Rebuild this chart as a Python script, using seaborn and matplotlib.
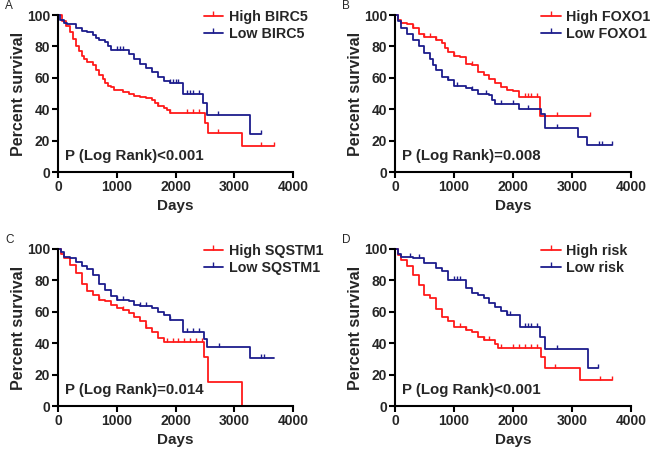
import numpy as np
import matplotlib
matplotlib.use("Agg")
import matplotlib.pyplot as plt
from matplotlib.lines import Line2D
import seaborn as sns

RED = "#ff1a1a"
BLUE = "#1c1c8c"

# step points (day, percent survival)
a_high_t = [0, 60, 130, 200, 260, 300, 350, 400, 450, 500, 600, 650, 700, 760, 800, 850, 900, 960, 1000, 1100, 1200, 1300, 1400, 1500, 1600, 1650, 1700, 1800, 1850, 1900, 2500, 2550, 3130, 3680]
a_high_s = [100, 96, 93, 89, 85, 80, 77, 74, 72, 70, 68, 65, 62, 59, 57, 55, 54, 52.5, 52, 51, 49.5, 48.5, 48, 47, 46, 44, 42, 40.5, 39.5, 37.5, 31, 25, 16.5, 16.5]
a_high_c = [1700, 1900, 2200, 2300, 2400, 2720, 3450, 3680]
a_low_t = [0, 40, 100, 150, 300, 400, 500, 600, 650, 700, 800, 850, 900, 1200, 1300, 1400, 1500, 1600, 1700, 1800, 1900, 2120, 2470, 2530, 3270, 3450]
a_low_s = [100, 97, 95, 94, 92, 90, 89, 87, 85.5, 84, 83, 80, 77.5, 75, 72, 69, 66, 64, 60.5, 58, 57, 50, 44, 36.5, 24, 24]
a_low_c = [1000, 1050, 1100, 1900, 1950, 2000, 2050, 2200, 2250, 2300, 2400, 2720, 3450]

b_high_t = [0, 50, 100, 200, 300, 400, 500, 700, 800, 850, 900, 1000, 1100, 1200, 1300, 1400, 1500, 1600, 1700, 1800, 1900, 2000, 2100, 2460, 3300]
b_high_s = [100, 97, 95, 94, 92, 88, 86, 84, 82, 79, 76.5, 74, 73, 69, 68, 64, 61.5, 59.5, 56.7, 54, 52.5, 51.5, 48, 35.5, 35.5]
b_high_c = [300, 500, 600, 700, 1000, 1300, 2200, 2250, 2300, 2400, 2740, 3300]
b_low_t = [0, 50, 100, 200, 300, 400, 500, 600, 650, 700, 800, 900, 1000, 1200, 1300, 1400, 1600, 1650, 1700, 2100, 2480, 2540, 3100, 3250, 3680]
b_low_s = [100, 96, 92, 88, 84, 80, 75.5, 72, 68, 65, 60.5, 58.5, 55, 53.7, 52, 49.5, 49, 46, 43.5, 40, 37, 28, 22, 17, 17]
b_low_c = [900, 1050, 1300, 1550, 1800, 2000, 2250, 2750, 3450, 3500, 3680]

c_high_t = [0, 50, 100, 200, 300, 400, 500, 600, 700, 800, 900, 1000, 1100, 1200, 1300, 1400, 1500, 1600, 1700, 1800, 2480, 2560, 3130]
c_high_s = [100, 97, 94, 90, 84.7, 78, 73, 70.4, 67.7, 66.6, 64.5, 62.3, 61, 59, 57, 54, 49.6, 47.4, 43, 41, 31, 15, 0]
c_high_c = [700, 1100, 1500, 1850, 1950, 2050, 2150, 2250, 2350, 2450]
c_low_t = [0, 50, 100, 200, 300, 400, 500, 600, 700, 800, 900, 1000, 1200, 1300, 1400, 1600, 1700, 1800, 1900, 2120, 2480, 2540, 3260, 3680]
c_low_s = [100, 98, 95, 94, 92, 89, 87, 83.6, 78, 74, 70, 67.7, 66.6, 64.5, 63.4, 62.3, 59.8, 57.7, 55, 47, 42.5, 37.5, 30.5, 30.5]
c_low_c = [1000, 1100, 1400, 1500, 1900, 2200, 2300, 2400, 2740, 3450, 3500]

d_high_t = [0, 50, 100, 200, 300, 400, 500, 600, 700, 800, 900, 1000, 1200, 1300, 1400, 1500, 1700, 1750, 2470, 2550, 3130, 3680]
d_high_s = [100, 96, 93, 89, 83.6, 77, 70.6, 68.5, 62, 57, 54, 50.6, 48.5, 47.4, 44, 42, 39.4, 37, 31, 24.5, 16.5, 16.5]
d_high_c = [1100, 1200, 1500, 1600, 1800, 2000, 2100, 2200, 2300, 2400, 2720, 3480, 3680]
d_low_t = [0, 50, 100, 300, 500, 700, 800, 900, 1200, 1300, 1400, 1500, 1600, 1700, 1800, 1900, 2120, 2460, 2540, 3270, 3440]
d_low_s = [100, 97, 95, 94, 91, 88, 85.7, 80.4, 75, 72, 70.6, 68.7, 65.5, 62.8, 60.2, 58, 50.5, 44, 36.5, 24, 24]
d_low_c = [250, 400, 1000, 1050, 1100, 1900, 1950, 2200, 2250, 2300, 2400, 2740, 3440]

panels = [
    ("A", "BIRC5", "P (Log Rank)<0.001", (a_high_t, a_high_s, a_high_c), (a_low_t, a_low_s, a_low_c)),
    ("B", "FOXO1", "P (Log Rank)=0.008", (b_high_t, b_high_s, b_high_c), (b_low_t, b_low_s, b_low_c)),
    ("C", "SQSTM1", "P (Log Rank)=0.014", (c_high_t, c_high_s, c_high_c), (c_low_t, c_low_s, c_low_c)),
    ("D", "risk", "P (Log Rank)<0.001", (d_high_t, d_high_s, d_high_c), (d_low_t, d_low_s, d_low_c)),
]

sns.set_style("ticks")
plt.rcParams["font.family"] = ["Liberation Sans", "DejaVu Sans"]
plt.rcParams["font.weight"] = "bold"

fig = plt.figure(figsize=(6.5, 4.49), dpi=100)
# axes boxes in figure pixels: left, top(100), right(4000), bottom(0)
boxes = [(58, 15, 293, 172), (395, 15, 631, 172), (58, 249, 293, 406), (395, 249, 631, 406)]


def surv_at(t, s, c):
    idx = np.searchsorted(t, c, side="right") - 1
    return np.array(s)[idx]


for (letter, gene, ptxt, hi, lo), (l, tp, r, b) in zip(panels, boxes):
    ax = fig.add_axes([l / 650, 1 - b / 449, (r - l) / 650, (b - tp) / 449])
    for (t, s, c), col in [(hi, RED), (lo, BLUE)]:
        sns.lineplot(x=t, y=s, drawstyle="steps-post", estimator=None, sort=False,
                     color=col, lw=1.3, ax=ax, clip_on=False)
        sns.scatterplot(x=c, y=surv_at(t, s, c), marker=2, s=9, color=col,
                        linewidth=1.0, ax=ax, clip_on=False, zorder=3)
    ax.set_xlim(0, 4000)
    ax.set_ylim(0, 100)
    ax.set_xticks([0, 1000, 2000, 3000, 4000])
    ax.set_yticks([0, 20, 40, 60, 80, 100])
    ax.tick_params(labelsize=10, width=1.5, length=4, color="black", pad=1.5)
    for lab in ax.get_xticklabels() + ax.get_yticklabels():
        lab.set_fontweight("bold")
    for sp in ["left", "bottom"]:
        ax.spines[sp].set_linewidth(1.5)
        ax.spines[sp].set_color("black")
    sns.despine(ax=ax)
    ax.set_xlabel("Days", fontsize=11, fontweight="bold", labelpad=4)
    ax.set_ylabel("Percent survival", fontsize=11.5, fontweight="bold", labelpad=1)
    ax.text(0.03, 0.105, ptxt, transform=ax.transAxes, fontsize=10.8, fontweight="bold", va="center")
    handles = [Line2D([0], [0], color=RED, lw=1.3, marker=2, markersize=3.5, markevery=[0]),
               Line2D([0], [0], color=BLUE, lw=1.3, marker=2, markersize=3.5, markevery=[0])]
    leg = ax.legend(handles, ["High " + gene, "Low " + gene], loc="upper left",
                    bbox_to_anchor=(0.565, 1.115), frameon=False, fontsize=10.3,
                    handlelength=1.35, handletextpad=0.4, labelspacing=0.2)
    for txt in leg.get_texts():
        txt.set_fontweight("bold")
    fig.text((l - 53) / 650, 1 - (tp - 9) / 449, letter, fontsize=8.5, va="center", fontweight="normal")

fig.savefig("out.png", dpi=100)
